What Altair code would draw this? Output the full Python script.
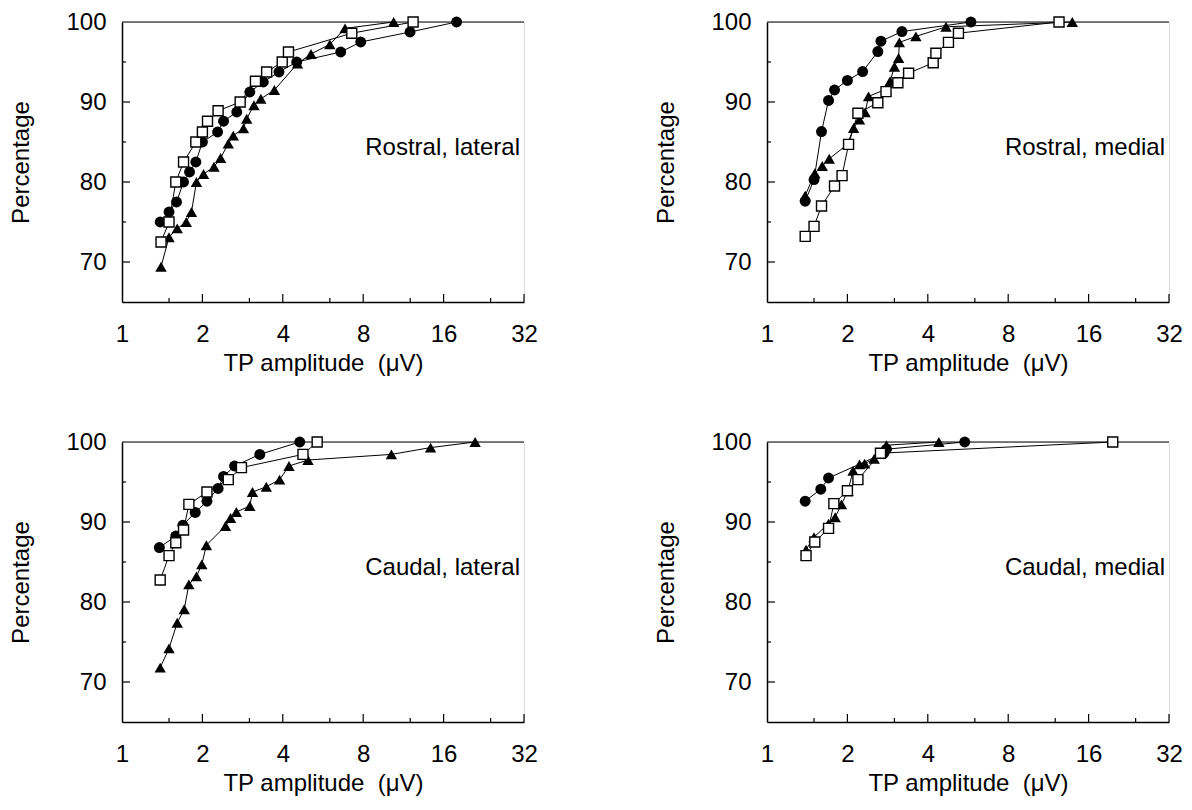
import altair as alt
import pandas as pd

# ---------------- data ----------------
# Rostral, lateral
RL_circle_x = [1.39, 1.50, 1.60, 1.70, 1.79, 1.89, 2.00, 2.28, 2.40, 2.69, 3.01, 3.38, 3.87, 4.51, 6.59, 7.83, 11.98, 17.9]
RL_circle_y = [75.0, 76.25, 77.5, 80.0, 81.25, 82.5, 85.0, 86.25, 87.6, 88.75, 91.25, 92.5, 93.75, 95.0, 96.25, 97.5, 98.75, 100]
RL_square_x = [1.40, 1.50, 1.59, 1.70, 1.89, 2.00, 2.09, 2.29, 2.77, 3.16, 3.48, 3.98, 4.20, 7.25, 12.3]
RL_square_y = [72.5, 75.0, 80.0, 82.5, 85.0, 86.25, 87.6, 88.9, 90.0, 92.6, 93.75, 95.0, 96.25, 98.6, 100]
RL_tri_x = [1.40, 1.50, 1.61, 1.74, 1.82, 1.90, 2.02, 2.21, 2.34, 2.50, 2.61, 2.85, 2.93, 3.12, 3.31, 3.72, 4.54, 5.10, 6.00, 6.84, 10.4]
RL_tri_y = [69.4, 73.1, 74.2, 75.0, 76.25, 80.0, 81.0, 81.9, 83.0, 84.8, 85.8, 86.7, 87.9, 89.6, 90.4, 91.5, 94.8, 96.0, 97.2, 99.2, 100]

# Rostral, medial
RM_circle_x = [1.39, 1.50, 1.60, 1.70, 1.79, 2.00, 2.28, 2.60, 2.67, 3.20, 5.80]
RM_circle_y = [77.6, 80.3, 86.3, 90.2, 91.5, 92.7, 93.8, 96.3, 97.6, 98.8, 100]
RM_square_x = [1.39, 1.50, 1.60, 1.79, 1.91, 2.02, 2.19, 2.60, 2.79, 3.09, 3.39, 4.19, 4.29, 4.78, 5.21, 12.4]
RM_square_y = [73.2, 74.45, 77.0, 79.5, 80.8, 84.7, 88.6, 89.9, 91.3, 92.4, 93.6, 94.9, 96.1, 97.45, 98.6, 100]
RM_tri_x = [1.39, 1.51, 1.61, 1.71, 2.00, 2.11, 2.22, 2.33, 2.40, 2.79, 2.89, 3.00, 3.11, 3.13, 3.61, 4.68, 13.9]
RM_tri_y = [78.3, 81.1, 82.0, 82.9, 84.7, 86.75, 87.8, 88.7, 90.7, 91.6, 92.6, 94.4, 95.5, 97.45, 98.2, 99.4, 100]

# Caudal, lateral
CL_circle_x = [1.38, 1.59, 1.69, 1.88, 2.08, 2.29, 2.40, 2.64, 3.28, 4.63]
CL_circle_y = [86.8, 88.25, 89.6, 91.2, 92.6, 94.2, 95.7, 97.0, 98.45, 100]
CL_square_x = [1.39, 1.50, 1.59, 1.70, 1.78, 2.08, 2.50, 2.80, 4.76, 5.38]
CL_square_y = [82.75, 85.8, 87.4, 89.0, 92.2, 93.75, 95.3, 96.8, 98.45, 100]
CL_tri_x = [1.39, 1.50, 1.61, 1.71, 1.78, 1.90, 1.99, 2.07, 2.44, 2.55, 2.68, 3.01, 3.08, 3.47, 3.89, 4.22, 4.97, 10.2, 14.3, 21.0]
CL_tri_y = [71.8, 74.2, 77.4, 79.1, 82.2, 83.2, 84.7, 87.1, 89.5, 90.5, 91.25, 92.0, 93.75, 94.4, 95.3, 97.0, 97.75, 98.45, 99.3, 100]

# Caudal, medial
CM_circle_x = [1.39, 1.59, 1.70, 2.74, 2.80, 5.5]
CM_circle_y = [92.6, 94.1, 95.5, 98.6, 99.1, 100]
CM_square_x = [1.40, 1.51, 1.70, 1.78, 2.00, 2.19, 2.66, 19.7]
CM_square_y = [85.8, 87.5, 89.2, 92.3, 93.9, 95.3, 98.6, 100]
CM_tri_x = [1.40, 1.50, 1.70, 1.80, 1.90, 2.01, 2.10, 2.22, 2.32, 2.52, 2.80, 4.4]
CM_tri_y = [86.55, 88.1, 89.8, 90.6, 92.2, 93.9, 96.4, 97.2, 97.3, 97.9, 99.6, 100]

panel_titles = ["Rostral, lateral", "Rostral, medial", "Caudal, lateral", "Caudal, medial"]
x_tick_labels = [1, 2, 4, 8, 16, 32]
x_minor_ticks = [1.5, 3, 6, 12, 24]
y_tick_labels = [70, 80, 90, 100]
y_minor_ticks = [75, 85, 95]
label_y = 84.2
x_title = "TP amplitude\u00a0\u00a0(\u03bcV)"
y_title = "Percentage"

# ---------------- styling ----------------
FONT = "Liberation Sans"
W, H = 402, 280
MAJ, MIN = 8, 4


def panel(title, cx, cy, sx, sy, tx, ty):
    rows = []
    for name, xs, ys in (("circle", cx, cy), ("square", sx, sy), ("tri", tx, ty)):
        for i, (x, y) in enumerate(zip(xs, ys)):
            rows.append({"series": name, "x": x, "y": y, "order": i})
    df = pd.DataFrame(rows)

    xscale = alt.Scale(type="log", base=2, domain=[1, 32], nice=False)
    yscale = alt.Scale(domain=[65, 100], nice=False, zero=False)

    xaxis = alt.Axis(values=x_tick_labels, format="d", ticks=False, tickSize=0, grid=False,
                     title=x_title, labelFontSize=24, titleFontSize=24,
                     labelFont=FONT, titleFont=FONT, labelColor="black", titleColor="black",
                     titleFontWeight="normal", labelPadding=20, titlePadding=5,
                     domainColor="black", domainWidth=1.5, labelFlush=False)
    yaxis = alt.Axis(values=y_tick_labels, format="d", ticks=False, tickSize=0, grid=False,
                     title=y_title, labelFontSize=24, titleFontSize=24,
                     labelFont=FONT, titleFont=FONT, labelColor="black", titleColor="black",
                     titleFontWeight="normal", labelPadding=16, titlePadding=32,
                     domainColor="black", domainWidth=1.5, labelFlush=False)

    base = alt.Chart(df).encode(
        x=alt.X("x:Q", scale=xscale, axis=xaxis),
        y=alt.Y("y:Q", scale=yscale, axis=yaxis),
    )

    top_rule = alt.Chart(pd.DataFrame({"y": [100]})).mark_rule(
        color="black", strokeWidth=1).encode(y=alt.Y("y:Q", scale=yscale))

    lines = base.mark_line(color="black", strokeWidth=1).encode(
        detail="series:N", order="order:Q")

    circles = base.transform_filter(alt.datum.series == "circle").mark_point(
        shape="circle", filled=True, color="black", size=120, opacity=1)
    tris = base.transform_filter(alt.datum.series == "tri").mark_point(
        shape="triangle-up", filled=True, color="black", size=130, opacity=1)
    squares = base.transform_filter(alt.datum.series == "square").mark_point(
        shape="square", filled=True, fill="white", stroke="black", strokeWidth=1.4,
        size=100, opacity=1)

    ymaj = alt.Chart(pd.DataFrame({"v": [70, 80, 90]})).mark_rule(
        color="black", strokeWidth=1.2).encode(
        y=alt.Y("v:Q", scale=yscale), x=alt.value(0), x2=alt.value(MAJ))
    ymin = alt.Chart(pd.DataFrame({"v": y_minor_ticks})).mark_rule(
        color="black", strokeWidth=1.2).encode(
        y=alt.Y("v:Q", scale=yscale), x=alt.value(0), x2=alt.value(MIN))
    xmaj = alt.Chart(pd.DataFrame({"v": x_tick_labels[1:]})).mark_rule(
        color="black", strokeWidth=1.2).encode(
        x=alt.X("v:Q", scale=xscale), y=alt.value(H), y2=alt.value(H - MAJ))
    xmin = alt.Chart(pd.DataFrame({"v": x_minor_ticks})).mark_rule(
        color="black", strokeWidth=1.2).encode(
        x=alt.X("v:Q", scale=xscale), y=alt.value(H), y2=alt.value(H - MIN))

    label = alt.Chart(pd.DataFrame({"x": [32], "y": [label_y], "t": [title]})).mark_text(
        align="right", baseline="middle", fontSize=24, font=FONT, color="black", dx=-4
    ).encode(x=alt.X("x:Q", scale=xscale), y=alt.Y("y:Q", scale=yscale), text="t:N")

    return alt.layer(top_rule, lines, tris, circles, squares, ymaj, ymin, xmaj, xmin, label
                     ).properties(width=W, height=H)


p1 = panel(panel_titles[0], RL_circle_x, RL_circle_y, RL_square_x, RL_square_y, RL_tri_x, RL_tri_y)
p2 = panel(panel_titles[1], RM_circle_x, RM_circle_y, RM_square_x, RM_square_y, RM_tri_x, RM_tri_y)
p3 = panel(panel_titles[2], CL_circle_x, CL_circle_y, CL_square_x, CL_square_y, CL_tri_x, CL_tri_y)
p4 = panel(panel_titles[3], CM_circle_x, CM_circle_y, CM_square_x, CM_square_y, CM_tri_x, CM_tri_y)

chart = alt.concat(p1, p2, p3, p4, columns=2, bounds="flush",
                   spacing=alt.RowColnumber(row=140, column=243)).properties(
    padding={"left": 1, "top": 1, "right": 0, "bottom": 0}
).configure_view(stroke=None).configure(background="white")

chart.save("out.html", embed_options={"renderer": "svg", "actions": False})
